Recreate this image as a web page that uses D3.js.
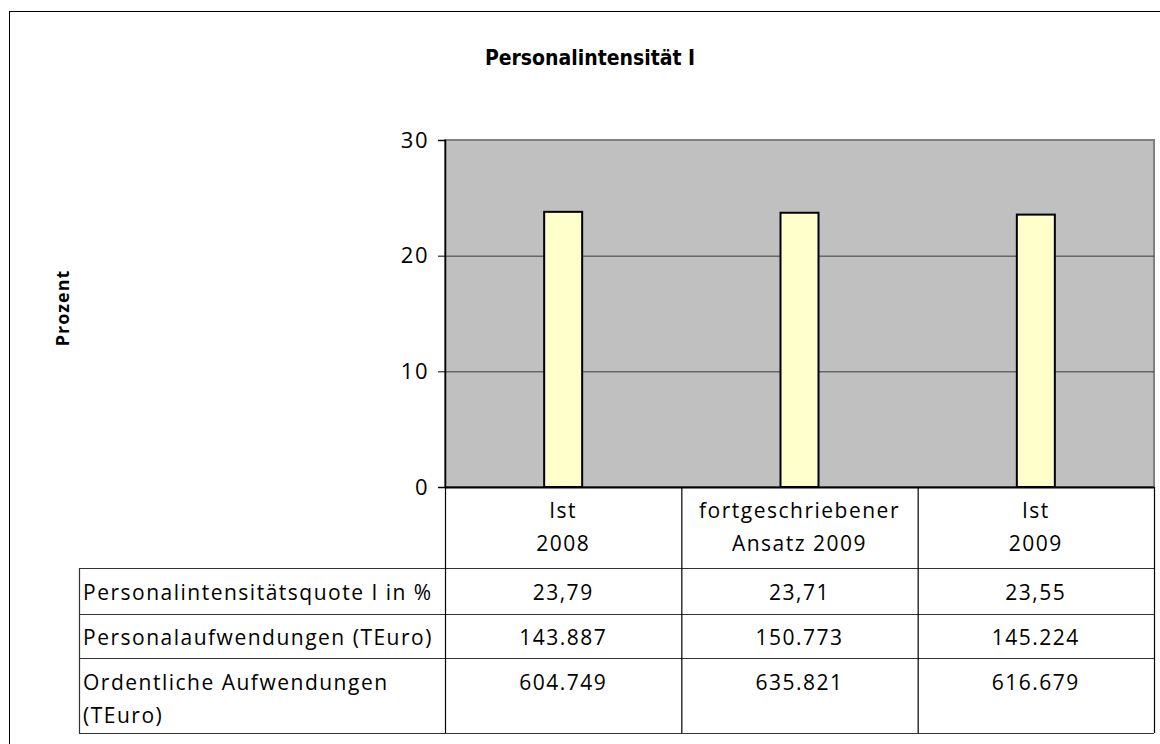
<!DOCTYPE html>
<html>
<head>
<meta charset="utf-8">
<script src="https://cdn.jsdelivr.net/npm/d3@7"></script>
<style>
  body { margin: 0; background: #fff; }
  svg text { font-family: "Open Sans", "DejaVu Sans", sans-serif; fill: #000; }
  .testo { font-size: 21px; letter-spacing: 1.5px; }
</style>
</head>
<body>
<svg id="chart"></svg>
<script>
// dati
var categorie = [["Ist", "2008"], ["fortgeschriebener", "Ansatz 2009"], ["Ist", "2009"]];
var quote = [23.79, 23.71, 23.55];
var righeEtichette = [["Personalintensitätsquote I in %"], ["Personalaufwendungen (TEuro)"], ["Ordentliche Aufwendungen", "(TEuro)"]];
var righeValori = [
  ["23,79", "23,71", "23,55"],
  ["143.887", "150.773", "145.224"],
  ["604.749", "635.821", "616.679"]
];
var yTicks = [0, 10, 20, 30];

var w = 1160, h = 744;
var svg = d3.select("#chart").attr("width", w).attr("height", h);

// cornice esterna
svg.append("rect")
  .attr("x", 9.5).attr("y", 11.5)
  .attr("width", w + 10).attr("height", h + 10)
  .attr("fill", "none").attr("stroke", "#000").attr("stroke-width", 1);

// area del grafico
var plot = { left: 445, right: 1154, top: 140, bottom: 487 };
var xScale = d3.scaleBand().domain(d3.range(categorie.length)).range([plot.left, plot.right]);
var yScale = d3.scaleLinear().domain([0, 30]).range([plot.bottom, plot.top]);

// sfondo grigio
svg.append("rect")
  .attr("x", plot.left).attr("y", plot.top)
  .attr("width", plot.right - plot.left).attr("height", plot.bottom - plot.top)
  .attr("fill", "#c0c0c0")
  .attr("stroke", "#808080").attr("stroke-width", 2);

// griglia
svg.selectAll(".griglia")
  .data(yTicks.filter(function(t) { return t > 0 && t < 30; }))
  .enter().append("line")
  .attr("x1", plot.left).attr("x2", plot.right)
  .attr("y1", function(d) { return yScale(d) + 0.5; })
  .attr("y2", function(d) { return yScale(d) + 0.5; })
  .attr("stroke", "#3a3a3a").attr("stroke-width", 1);

// barre
var barW = 38;
svg.selectAll(".barra")
  .data(quote)
  .enter().append("rect")
  .attr("x", function(d, i) { return xScale(i) + xScale.bandwidth() / 2 - barW / 2; })
  .attr("y", function(d) { return yScale(d); })
  .attr("width", barW)
  .attr("height", function(d) { return yScale(0) - yScale(d); })
  .attr("fill", "#ffffcc")
  .attr("stroke", "#000").attr("stroke-width", 2);

// asse y
var asseY = svg.append("g")
  .attr("transform", "translate(" + plot.left + ",0)")
  .call(d3.axisLeft(yScale).tickValues(yTicks).tickSize(7).tickPadding(9));
asseY.select(".domain").attr("stroke", "#000").attr("stroke-width", 1.5);
asseY.selectAll(".tick line").attr("stroke", "#000");
asseY.selectAll(".tick text")
  .attr("class", "testo")
  .style("font-family", "'Open Sans', sans-serif")
  .style("font-size", "22px");

// titolo asse y
svg.append("text")
  .attr("transform", "translate(69,308) rotate(-90)")
  .attr("text-anchor", "middle")
  .style("font-size", "18px")
  .style("letter-spacing", "1px")
  .style("font-weight", "bold")
  .text("Prozent");

// titolo
svg.append("text")
  .attr("x", 590).attr("y", 65)
  .attr("text-anchor", "middle")
  .style("font-family", "'DejaVu Sans Condensed', 'DejaVu Sans', sans-serif")
  .style("font-size", "21px")
  .style("font-weight", "bold")
  .text("Personalintensität I");

// tabella dati
var tab = { left: 79, top: 568, rows: [568, 614, 658, 733] };
var linee = svg.append("g").attr("stroke", "#333").attr("stroke-width", 1.2);

// linee orizzontali
tab.rows.forEach(function(y) {
  linee.append("line")
    .attr("x1", tab.left).attr("x2", plot.right)
    .attr("y1", y + 0.5).attr("y2", y + 0.5);
});
linee.append("line")
  .attr("x1", plot.left).attr("x2", plot.right)
  .attr("y1", plot.bottom + 0.5).attr("y2", plot.bottom + 0.5)
  .attr("stroke", "#000").attr("stroke-width", 2);

// linee verticali
linee.append("line")
  .attr("x1", tab.left + 0.5).attr("x2", tab.left + 0.5)
  .attr("y1", tab.top).attr("y2", tab.rows[3]);
d3.range(categorie.length + 1).forEach(function(i) {
  var x = i < categorie.length ? xScale(i) : plot.right;
  linee.append("line")
    .attr("x1", x + 0.5).attr("x2", x + 0.5)
    .attr("y1", plot.bottom).attr("y2", tab.rows[3])
    .attr("stroke", "#000");
});

var baseRighe = [600, 645, 690];

// etichette categorie
categorie.forEach(function(c, i) {
  c.forEach(function(riga, j) {
    svg.append("text")
      .attr("class", "testo")
      .attr("x", xScale(i) + xScale.bandwidth() / 2)
      .attr("y", 518 + j * 33)
      .attr("text-anchor", "middle")
      .text(riga);
  });
});

// etichette righe
righeEtichette.forEach(function(r, i) {
  r.forEach(function(riga, j) {
    svg.append("text")
      .attr("class", "testo")
      .attr("x", tab.left + 4)
      .attr("y", baseRighe[i] + j * 33)
      .text(riga);
  });
});

// valori
righeValori.forEach(function(r, i) {
  r.forEach(function(v, k) {
    svg.append("text")
      .attr("class", "testo")
      .attr("x", xScale(k) + xScale.bandwidth() / 2)
      .attr("y", baseRighe[i])
      .attr("text-anchor", "middle")
      .text(v);
  });
});
</script>
</body>
</html>
